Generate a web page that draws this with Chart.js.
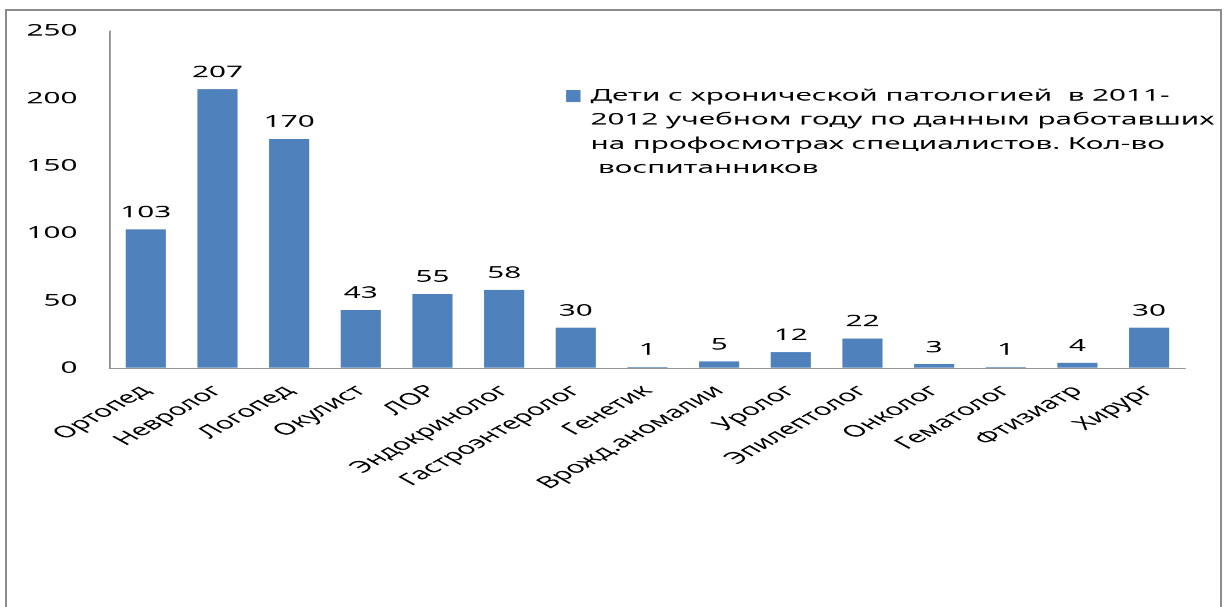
<!DOCTYPE html>
<html>
<head>
<meta charset="utf-8">
<script src="https://cdn.jsdelivr.net/npm/chart.js@4/dist/chart.umd.min.js"></script>
<style>
  html, body { margin: 0; padding: 0; background: #fff; overflow: hidden; width: 1224px; height: 607px; }
  #frame { position: absolute; left: 5px; top: 9px; width: 1213px; height: 700px; border: 2px solid #8c8c8c; border-bottom: none; }
  #wrap { position: absolute; left: 0; top: 0; width: 680px; height: 607px; transform: scaleX(1.8); transform-origin: 0 0; }
</style>
</head>
<body>
<div id="frame"></div>
<div id="wrap"><canvas id="chart" width="680" height="607" style="width:680px;height:607px"></canvas></div>
<script>
// data
const categories = ['Ортопед', 'Невролог', 'Логопед', 'Окулист', 'ЛОР', 'Эндокринолог', 'Гастроэнтеролог',
  'Генетик', 'Врожд.аномалии', 'Уролог', 'Эпилептолог', 'Онколог', 'Гематолог', 'Фтизиатр', 'Хирург'];
const values = [103, 207, 170, 43, 55, 58, 30, 1, 5, 12, 22, 3, 1, 4, 30];
const yTicks = [0, 50, 100, 150, 200, 250];
const legendLines = ['Дети с хронической патологией  в 2011-',
  '2012 учебном году по данным работавших',
  'на профосмотрах специалистов. Кол-во',
  ' воспитанников'];

const barColor = '#4f81bd';
const font = 'Noto Sans';
const fontSize = 16.5;

// value labels above each bar
const valueLabels = {
  id: 'valueLabels',
  afterDatasetsDraw(chart) {
    const ctx = chart.ctx;
    const meta = chart.getDatasetMeta(0);
    ctx.save();
    ctx.font = fontSize + 'px "' + font + '"';
    ctx.fillStyle = '#000';
    ctx.textAlign = 'center';
    ctx.textBaseline = 'alphabetic';
    meta.data.forEach((bar, i) => {
      ctx.fillText(String(values[i]), bar.x, bar.y - 12);
    });
    ctx.restore();
  }
};

// legend inside plot area, wrapped text like excel
const boxLegend = {
  id: 'boxLegend',
  afterDraw(chart) {
    const ctx = chart.ctx;
    ctx.save();
    ctx.fillStyle = barColor;
    ctx.fillRect(314.5, 90, 8, 12);
    ctx.font = fontSize + 'px "' + font + '"';
    ctx.fillStyle = '#000';
    ctx.textBaseline = 'middle';
    legendLines.forEach((line, i) => {
      ctx.fillText(line, 328, 96 + i * 24);
    });
    ctx.restore();
  }
};

new Chart(document.getElementById('chart'), {
  type: 'bar',
  data: {
    labels: categories,
    datasets: [{
      label: legendLines.join(' '),
      data: values,
      backgroundColor: barColor,
      barPercentage: 0.56,
      categoryPercentage: 1
    }]
  },
  options: {
    responsive: false,
    animation: false,
    devicePixelRatio: 1.8,
    layout: { padding: { top: 31, right: 21.7, left: 0, bottom: 0 } },
    plugins: {
      legend: { display: false },
      tooltip: { enabled: false }
    },
    scales: {
      x: {
        grid: { drawOnChartArea: false, drawTicks: false },
        border: { color: '#8c8c8c', width: 1 },
        ticks: {
          color: '#000',
          font: { family: font, size: fontSize },
          minRotation: 45,
          maxRotation: 45,
          padding: 13,
          autoSkip: false
        },
        afterFit: s => { s.height = 239; }
      },
      y: {
        min: 0,
        max: 250,
        afterBuildTicks: s => { s.ticks = yTicks.map(v => ({ value: v })); },
        grid: { drawOnChartArea: false, drawTicks: false },
        border: { color: '#8c8c8c', width: 1 },
        ticks: {
          color: '#000',
          font: { family: font, size: fontSize },
          padding: 18
        },
        afterFit: s => { s.width = 61.1; }
      }
    }
  },
  plugins: [valueLabels, boxLegend]
});
</script>
</body>
</html>
